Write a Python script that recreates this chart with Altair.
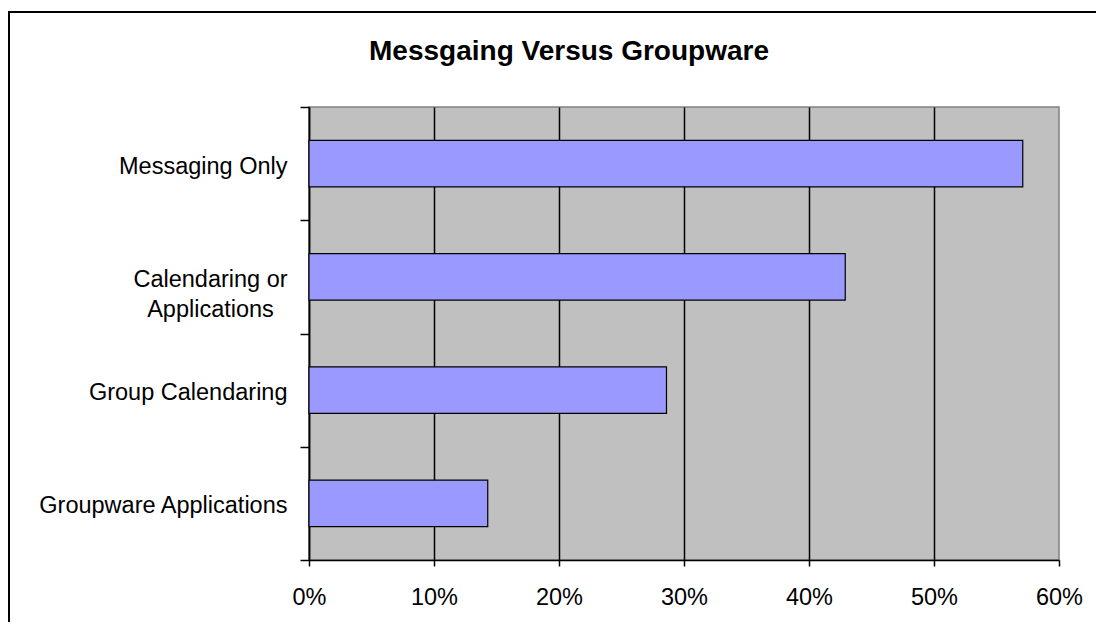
import altair as alt
import pandas as pd

# ---- data ----
categories = [
    "Messaging Only",
    "Calendaring or|Applications",
    "Group Calendaring",
    "Groupware Applications",
]
shares = [0.571, 0.429, 0.286, 0.143]
x_tick_values = [0, 0.1, 0.2, 0.3, 0.4, 0.5, 0.6]
band_boundaries = [0, 1, 2, 3, 4]
title_text = "Messgaing Versus Groupware"

df = pd.DataFrame({"category": categories, "share": shares})

FONT = "Liberation Sans"
FS = 23.5
MULTI = "indexof(datum.value, '|') >= 0"

# chart-area border (only its top and left edges fall inside the picture)
frame_top = alt.Chart(alt.Data(values=[{}])).mark_rule(
    color="black", strokeWidth=2, clip=False
).encode(x=alt.value(-301), x2=alt.value(800), y=alt.value(-95))
frame_left = alt.Chart(alt.Data(values=[{}])).mark_rule(
    color="black", strokeWidth=2, clip=False
).encode(x=alt.value(-300), y=alt.value(-96), y2=alt.value(530))

bars = alt.Chart(df).mark_bar(color="#9999FF", stroke="black", strokeWidth=1.2).encode(
    x=alt.X(
        "share:Q",
        scale=alt.Scale(domain=[0, 0.6], nice=False),
        axis=alt.Axis(
            values=x_tick_values, format=".0%", title=None,
            grid=True, gridColor="black", gridWidth=1.5,
            gridOpacity={"condition": {"test": "datum.value >= 0.6", "value": 0}, "value": 1},
            domainColor="black", domainWidth=1.5,
            tickColor="black", tickWidth=1.5, tickSize=6,
            labelFont=FONT, labelFontSize=FS, labelColor="black", labelPadding=19,
            labelFlush=False, labelOverlap=False,
        ),
    ),
    y=alt.Y(
        "category:N", sort=None,
        scale=alt.Scale(paddingInner=0.59, paddingOuter=0.295),
        axis=alt.Axis(
            title=None, ticks=False, grid=False, orient="left",
            domainColor="black", domainWidth=1.5,
            labelFont=FONT, labelFontSize=FS, labelColor="black",
            labelPadding={"condition": {"test": MULTI, "value": 99}, "value": 22},
            labelAlign={"condition": {"test": MULTI, "value": "center"}, "value": "right"},
            labelBaseline="middle", labelOffset=3,
            labelLineHeight=30, labelLimit=0,
            labelExpr="split(datum.label, '|')",
        ),
    ),
)

tick_layer = alt.Chart(alt.Data(values=[{"v": 0}])).mark_point(opacity=0).encode(
    y=alt.Y(
        "v:Q",
        scale=alt.Scale(domain=[0, 4], nice=False),
        axis=alt.Axis(
            values=band_boundaries, labels=False, domain=False, grid=False,
            tickColor="black", tickWidth=1.5, tickSize=9, title=None, orient="left",
        ),
    )
)

chart = alt.layer(frame_top, frame_left, bars, tick_layer).resolve_scale(y="independent").properties(
    width=750,
    height=453,
    autosize=alt.AutoSizeParams(type="none"),
    padding={"left": 309, "top": 107, "right": 37, "bottom": 62},
    title=alt.TitleParams(
        title_text, font=FONT, fontSize=28, fontWeight="bold", color="black",
        anchor="middle", frame="group", dx=-115, dy=78, offset=0, baseline="alphabetic",
    ),
    background="white",
).configure_view(fill="#C0C0C0", stroke="#808080", strokeWidth=1.5)

chart.save("out.html", embed_options={"renderer": "svg", "actions": False})
